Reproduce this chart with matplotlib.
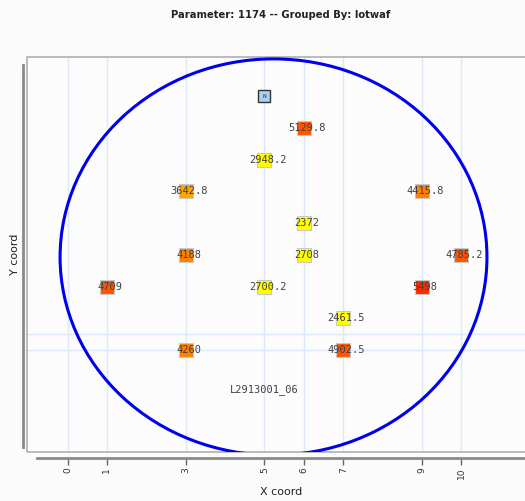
import matplotlib
matplotlib.use("Agg")
import matplotlib.pyplot as plt
from matplotlib.patches import Ellipse, Rectangle

# Site values on the wafer map (x coord, row from bottom, value)
site_x = [6, 5, 3, 9, 6, 3, 6, 10, 1, 5, 9, 7, 3, 7]
site_y = [8, 7, 6, 6, 5, 4, 4, 4, 3, 3, 3, 2, 1, 1]
site_val = [5129.8, 2948.2, 3642.8, 4415.8, 2372, 4188, 2708, 4785.2,
            4709, 2700.2, 5498, 2461.5, 4260, 4902.5]
site_txt = ["5129.8", "2948.2", "3642.8", "4415.8", "2372", "4188", "2708", "4785.2",
            "4709", "2700.2", "5498", "2461.5", "4260", "4902.5"]

notch_xy = (5, 9)
wafer_label = "L2913001_06"
wafer_label_xy = (5, -0.25)

x_ticks = [0, 1, 3, 5, 6, 7, 9, 10]
h_grid = [1, 1.5]

# wafer outline (data units)
wafer_center = (5.23, 3.93)
wafer_w, wafer_h = 10.84, 12.5


def value_color(v):
    if v < 3000:
        return "#ffff00"
    if v < 4000:
        return "#ffa500"
    if v < 4500:
        return "#ff8000"
    if v < 5200:
        return "#ff5500"
    return "#ff2a00"


fig = plt.figure(figsize=(5.25, 5.01), dpi=100)
fig.patch.set_facecolor("#fbfbfb")
# plot area runs past the right edge of the image, as in the original
ax = fig.add_axes([27 / 525, 49 / 501, 508 / 525, 395 / 501])
ax.set_facecolor("#fcfcfc")
ax.set_xlim(-1.03, 11.87)
ax.set_ylim(-2.22, 10.24)

# frame of the plot area
ax.add_patch(Rectangle((0, 0), 1, 1, transform=ax.transAxes, fill=False,
                       edgecolor="#b0b0b0", linewidth=1.2, zorder=1, clip_on=False))

for gx in x_ticks:
    ax.axvline(gx, color="#dde9f8", linewidth=1, zorder=0)
for gy in h_grid:
    ax.axhline(gy, color="#dde9f8", linewidth=1, zorder=0)

ax.add_patch(Ellipse(wafer_center, wafer_w, wafer_h, fill=False,
                     edgecolor="#0000ee", linewidth=2.2, zorder=2))

for x, y, v, t in zip(site_x, site_y, site_val, site_txt):
    ax.plot(x, y, marker="s", markersize=10, color=value_color(v),
            markeredgecolor="#c8c8c8", markeredgewidth=0.8, zorder=3)
    ax.text(x + 0.08, y, t, ha="center", va="center", fontsize=7.5,
            family="DejaVu Sans Mono", color="#404040", zorder=4)

ax.plot(*notch_xy, marker="s", markersize=9, color="#a8d0f5",
        markeredgecolor="#333333", markeredgewidth=1.0, zorder=3)
ax.text(notch_xy[0], notch_xy[1], "N", ha="center", va="center",
        fontsize=3.5, color="#222222", zorder=4)

ax.text(*wafer_label_xy, wafer_label, ha="center", va="center", fontsize=7.5,
        family="DejaVu Sans Mono", color="#404040")

# axis lines offset from the frame
for side in ("top", "right"):
    ax.spines[side].set_visible(False)
ax.spines["bottom"].set_position(("outward", 4))
ax.spines["bottom"].set_bounds(-0.77, 11.87)
ax.spines["bottom"].set_color("#8a8a8a")
ax.spines["bottom"].set_linewidth(2)
ax.spines["left"].set_position(("outward", 3))
ax.spines["left"].set_bounds(-2.05, 10.0)
ax.spines["left"].set_color("#8a8a8a")
ax.spines["left"].set_linewidth(2)

ax.set_xticks(x_ticks)
ax.set_xticklabels([str(v) for v in x_ticks], rotation=90, fontsize=6.5,
                   color="#333333")
ax.tick_params(axis="x", length=5, width=1, color="#666666", pad=2)
ax.set_yticks([])

ax.set_xlabel("X coord", fontsize=8, color="#222222", labelpad=6)
ax.set_ylabel("Y coord", fontsize=8, color="#222222", labelpad=2)

fig.text(281 / 525, 1 - 15 / 501, "Parameter: 1174 -- Grouped By: lotwaf",
         ha="center", va="center", fontsize=7.2, fontweight="bold", color="#222222")

fig.savefig("out.png", dpi=100, facecolor=fig.get_facecolor())
